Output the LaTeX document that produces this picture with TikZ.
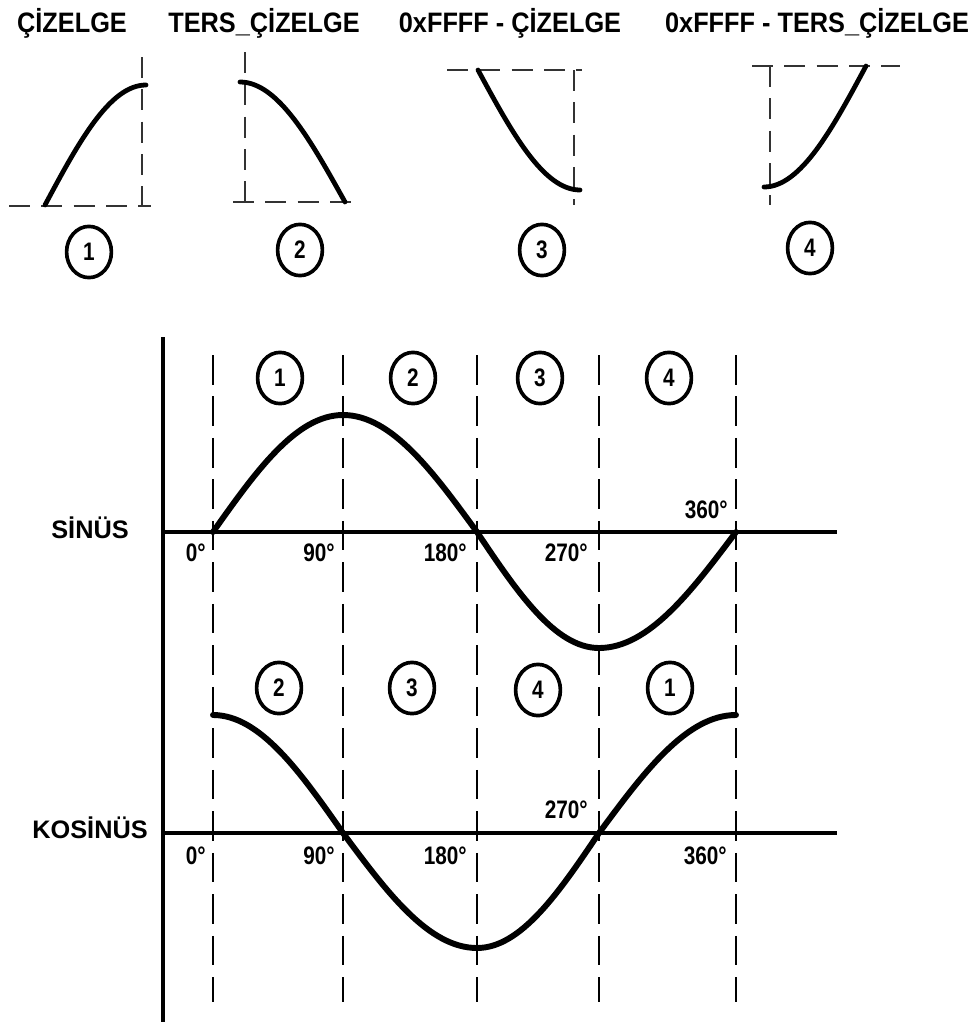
\documentclass[tikz,border=0pt]{standalone}
\usepackage{fontspec}
\setmainfont{Liberation Sans}
\newfontfamily\narrowfont{Liberation Sans}[FakeStretch=0.82]
\newfontfamily\headfont{Liberation Sans}[FakeStretch=0.9]
\usetikzlibrary{shapes.geometric}

\begin{document}
\begin{tikzpicture}[
    x=0.025cm, y=-0.025cm,
    title/.style={font=\headfont\bfseries\fontsize{20}{24}\selectfont, anchor=base, inner sep=0pt},
    wavename/.style={font=\bfseries\fontsize{18}{22}\selectfont, anchor=base east, inner sep=0pt},
    degree/.style={font=\narrowfont\bfseries\fontsize{18}{22}\selectfont, anchor=base east, inner sep=0pt},
    region/.style={ellipse, draw, line width=2.6pt, inner sep=0pt, minimum width=1.12cm, minimum height=1.28cm, font=\narrowfont\bfseries\fontsize{18}{20}\selectfont},
    wave/.style={line width=4.2pt, line cap=round},
    piece/.style={line width=3.4pt, line cap=round},
    axis/.style={line width=2.4pt},
    guide/.style={line width=2pt, dash pattern=on 21pt off 8.5pt},
    frame/.style={line width=1.6pt, draw=black!80, dash pattern=on 15pt off 8pt}
]
    \useasboundingbox (0,0) rectangle (976,1026);

    % the four table pieces
    \node [title] (h1) at (72,32) {ÇİZELGE};
    \node [title] (h2) at (264,32) {TERS\_ÇİZELGE};
    \node [title] (h3) at (510,32) {0xFFFF - ÇİZELGE};
    \node [title] (h4) at (817,32) {0xFFFF - TERS\_ÇİZELGE};

    \draw [frame] (9,206) -- (151,206);
    \draw [frame] (142,57) -- (142,206);
    \draw [piece] (45,205) sin (146,85);
    \node [region] (q1) at (89,252) {1};

    \draw [frame] (233,202) -- (357,202);
    \draw [frame] (245,52) -- (245,202);
    \draw [piece] (240,82) cos (345,202);
    \node [region] (q2) at (300,250) {2};

    \draw [frame] (447,70) -- (582,70);
    \draw [frame] (574,70) -- (574,205);
    \draw [piece] (478,70) sin (580,190);
    \node [region] (q3) at (542,250) {3};

    \draw [frame] (752,66) -- (900,66);
    \draw [frame] (770,66) -- (770,205);
    \draw [piece] (764,187) cos (866,66);
    \node [region] (q4) at (810,248) {4};

    % axes and quarter lines
    \draw [axis, line width=2.8pt] (163,337) -- (163,1022);
    \draw [axis] (163,532) -- (837,532);
    \draw [axis] (163,833) -- (837,833);
    \draw [guide] (213,355) -- (213,1002);
    \draw [guide] (343,355) -- (343,1002);
    \draw [guide] (477,355) -- (477,1002);
    \draw [guide] (599,355) -- (599,1002);
    \draw [guide] (736,355) -- (736,1002);

    % sine
    \node [wavename] (sinus) at (129,538) {SİNÜS};
    \draw [wave] (213,532) sin (343,415) cos (477,532) sin (599,648) cos (736,532);
    \node [region] (s1) at (280,378) {1};
    \node [region] (s2) at (413,378) {2};
    \node [region] (s3) at (540,378) {3};
    \node [region] (s4) at (669,378) {4};
    \node [degree] (s0d) at (206,561) {0°};
    \node [degree] (s90d) at (335,561) {90°};
    \node [degree] (s180d) at (467,561) {180°};
    \node [degree] (s270d) at (588,561) {270°};
    \node [degree] (s360d) at (728,518) {360°};

    % cosine
    \node [wavename] (kosinus) at (148,838) {KOSİNÜS};
    \draw [wave] (213,715) cos (343,833) sin (477,948) cos (599,833) sin (736,715);
    \node [region] (k2) at (279,688) {2};
    \node [region] (k3) at (412,688) {3};
    \node [region] (k4) at (538,690) {4};
    \node [region] (k1) at (670,688) {1};
    \node [degree] (k0d) at (206,864) {0°};
    \node [degree] (k90d) at (335,864) {90°};
    \node [degree] (k180d) at (467,864) {180°};
    \node [degree] (k270d) at (588,818) {270°};
    \node [degree] (k360d) at (727,864) {360°};
\end{tikzpicture}
\end{document}
